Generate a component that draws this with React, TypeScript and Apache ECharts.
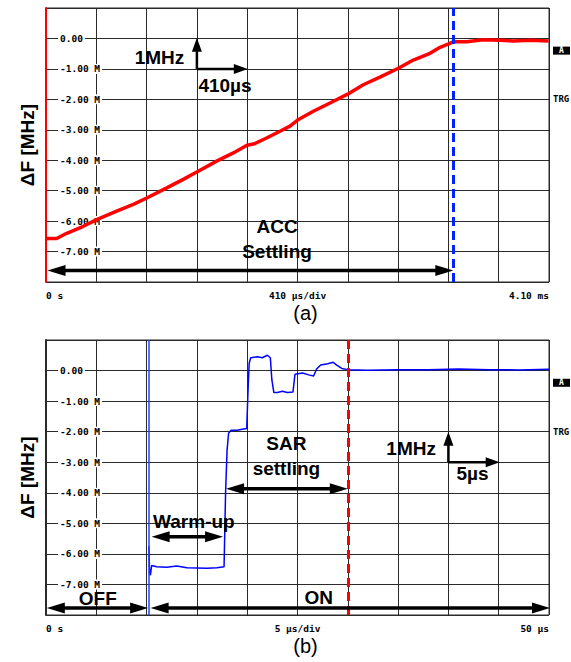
import React, { useEffect, useRef } from "react";
import * as echarts from "echarts";

// ---- data ----
const TOP_T = [6, 87, 169, 304, 413, 576, 712, 821, 984, 1119, 1233, 1391, 1527, 1638, 1700, 1798, 1907, 1989, 2051, 2179, 2315, 2459, 2586, 2722, 2872, 2994, 3130, 3212, 3282, 3320, 3429, 3564, 3700, 3809, 3950, 4097];
const TOP_F = [-6.57, -6.57, -6.4, -6.17, -5.95, -5.67, -5.45, -5.24, -4.91, -4.63, -4.38, -4.03, -3.76, -3.51, -3.46, -3.27, -3.05, -2.88, -2.68, -2.39, -2.12, -1.83, -1.52, -1.27, -0.98, -0.71, -0.49, -0.29, -0.18, -0.11, -0.11, -0.04, -0.06, -0.08, -0.06, -0.08];

const BOT_T = [10.22, 10.3, 10.38, 10.5, 11, 12, 13, 14, 15, 16, 17, 17.7, 17.85, 18.0, 18.15, 18.4, 19, 19.5, 19.95, 20.1, 20.2, 20.35, 21, 21.5, 22.0, 22.3, 22.45, 22.65, 23, 23.5, 24, 24.55, 24.75, 25.5, 26.2, 26.6, 26.9, 27.3, 28, 28.55, 28.9, 29.4, 30, 32, 35, 38, 41, 44, 47, 50];
const BOT_F = [-5.75, -6.6, -6.7, -6.38, -6.42, -6.44, -6.4, -6.45, -6.46, -6.47, -6.45, -6.42, -4.0, -2.6, -2.05, -1.95, -1.95, -1.92, -1.9, -0.5, 0.25, 0.42, 0.45, 0.42, 0.5, 0.42, -0.3, -0.72, -0.72, -0.68, -0.72, -0.7, -0.12, -0.08, -0.15, -0.18, 0.05, 0.18, 0.22, 0.27, 0.18, 0.07, 0.03, 0.01, 0.03, 0.03, 0.05, 0.03, 0.02, 0.04];

const Y_MIN = -8;
const Y_MAX = 1;
const TOP_X_MAX = 4100; // µs (410 µs/div)
const TOP_X_DIV = 410;
const BOT_X_MAX = 50; // µs (5 µs/div)
const BOT_X_DIV = 5;

const TOP_X_LABELS: Record<number, string> = { 0: "0 s", 2050: "410 µs/div", 4100: "4.10 ms" };
const BOT_X_LABELS: Record<number, string> = { 0: "0 s", 25: "5 µs/div", 50: "50 µs" };

const TOP_MARKER_T = 3320; // blue dashed line (ACC settled)
const BOT_MARKER_T = 30; // red dashed line (SAR settled)
const BOT_ON_T = 10.2; // power-on edge

// arrows (tip to tip): [x1, y1, x2, y2, headAtStart, isScaleArrow]
type Arrow = [number, number, number, number, boolean, boolean];
const TOP_ARROWS: Arrow[] = [
  [12, -7.62, 3320, -7.62, true, false],
  [1230, -1, 1230, 0.02, false, true],
  [1230, -1, 1645, -1, false, true],
];
const BOT_ARROWS: Arrow[] = [
  [0.08, -7.77, 10.15, -7.77, true, false],
  [10.4, -7.77, 50.1, -7.77, true, false],
  [10.5, -5.44, 17.6, -5.44, true, false],
  [17.9, -3.87, 30.0, -3.87, true, false],
  [40, -3, 40, -2, false, true],
  [40, -3, 45.1, -3, false, true],
];

const TOP_NOTES: [string, number, number][] = [
  ["1MHz", 925, -0.62],
  ["410µs", 1459, -1.56],
  ["ACC", 1883, -6.18],
  ["Settling", 1883, -6.99],
];
const BOT_NOTES: [string, number, number][] = [
  ["SAR", 23.9, -2.38],
  ["settling", 23.9, -3.19],
  ["1MHz", 36.3, -2.54],
  ["5µs", 42.4, -3.36],
  ["Warm-up", 14.7, -4.93],
  ["OFF", 5.15, -7.47],
  ["ON", 27.1, -7.44],
];

const MONO = "DejaVu Sans Mono";
const SANS = "Liberation Sans";

function yAxisFor(gridIndex: number, lineColor: string) {
  return {
    type: "value",
    gridIndex,
    min: Y_MIN,
    max: Y_MAX,
    interval: 1,
    axisLine: { show: true, lineStyle: { color: lineColor, width: 2 } },
    axisTick: { show: false },
    splitLine: { show: true, lineStyle: { color: "#2a2a2a", width: 1 } },
    axisLabel: {
      inside: true,
      margin: 12,
      showMinLabel: false,
      showMaxLabel: false,
      fontFamily: MONO,
      fontWeight: "bold",
      fontSize: 9.5,
      color: "#000",
      backgroundColor: "#fff",
      padding: [0, 2],
      formatter: (v: number) => (v === 0 ? "0.00" : `${v.toFixed(2)} M`),
    },
  };
}

function xAxisFor(gridIndex: number, max: number, interval: number, labels: Record<number, string>) {
  return {
    type: "value",
    gridIndex,
    min: 0,
    max,
    interval,
    axisLine: { show: false },
    axisTick: { show: false },
    splitLine: { show: true, lineStyle: { color: "#2a2a2a", width: 1 } },
    axisLabel: {
      margin: 8,
      interval: 0,
      alignMinLabel: "left",
      alignMaxLabel: "right",
      fontFamily: MONO,
      fontWeight: "bold",
      fontSize: 9.5,
      color: "#000",
      formatter: (v: number) => labels[Math.round(v * 1000) / 1000] ?? "",
    },
  };
}

export default function App() {
  const ref = useRef<HTMLDivElement>(null);

  useEffect(() => {
    if (!ref.current) return;
    const chart = echarts.init(ref.current, undefined, { renderer: "svg" });

    const option: any = {
      animation: false,
      backgroundColor: "#fff",
      grid: [
        { left: 46, top: 8, width: 503, height: 274, show: true, borderColor: "#2a2a2a", borderWidth: 1 },
        { left: 46, top: 340, width: 503, height: 275, show: true, borderColor: "#2a2a2a", borderWidth: 1 },
      ],
      xAxis: [
        xAxisFor(0, TOP_X_MAX, TOP_X_DIV, TOP_X_LABELS),
        xAxisFor(1, BOT_X_MAX, BOT_X_DIV, BOT_X_LABELS),
      ],
      yAxis: [yAxisFor(0, "#ff0000"), yAxisFor(1, "#2a2a2a")],
      series: [
        {
          type: "line",
          xAxisIndex: 0,
          yAxisIndex: 0,
          data: TOP_T.map((t, i) => [t, TOP_F[i]]),
          showSymbol: false,
          lineStyle: { color: "#ff0000", width: 3.5 },
          z: 3,
          markLine: {
            silent: true,
            animation: false,
            label: { show: false },
            symbol: ["none", "none"],
            data: [
              {
                xAxis: TOP_MARKER_T,
                lineStyle: { color: "#0022ff", width: 3, type: [9, 5] },
              },
            ],
          },
        },
        {
          type: "line",
          xAxisIndex: 1,
          yAxisIndex: 1,
          data: BOT_T.map((t, i) => [t, BOT_F[i]]),
          showSymbol: false,
          lineStyle: { color: "#0000ff", width: 1.5 },
          z: 3,
          markLine: {
            silent: true,
            animation: false,
            label: { show: false },
            symbol: ["none", "none"],
            data: [
              { xAxis: BOT_ON_T, lineStyle: { color: "#2040ff", width: 1.5, type: "solid" } },
              { xAxis: BOT_MARKER_T, lineStyle: { color: "#ff0000", width: 3, type: [9, 5] } },
            ],
          },
        },
      ],
    };

    chart.setOption(option);

    const px = (g: number, x: number, y: number) =>
      chart.convertToPixel({ gridIndex: g } as any, [x, y]) as number[];

    const graphics: any[] = [];

    const addArrows = (g: number, arrows: Arrow[]) => {
      arrows.forEach(([x1, y1, x2, y2, both, scale]) => {
        const p1 = px(g, x1, y1);
        const p2 = px(g, x2, y2);
        const dx = p2[0] - p1[0];
        const dy = p2[1] - p1[1];
        const L = Math.hypot(dx, dy);
        const ux = dx / L;
        const uy = dy / L;
        const nx = -uy;
        const ny = ux;
        const hl = scale ? 14 : 18;
        const hw = scale ? 5 : 5.5;
        const lw = scale ? 2.5 : 3.5;
        const s = both ? [p1[0] + ux * (hl - 1), p1[1] + uy * (hl - 1)] : p1;
        const e = [p2[0] - ux * (hl - 1), p2[1] - uy * (hl - 1)];
        graphics.push({
          type: "line",
          z: 20,
          shape: { x1: s[0], y1: s[1], x2: e[0], y2: e[1] },
          style: { stroke: "#000", lineWidth: lw },
        });
        const head = (tip: number[], dir: number) => {
          const bx = tip[0] - dir * ux * hl;
          const by = tip[1] - dir * uy * hl;
          graphics.push({
            type: "polygon",
            z: 20,
            shape: {
              points: [
                [tip[0], tip[1]],
                [bx + nx * hw, by + ny * hw],
                [bx - nx * hw, by - ny * hw],
              ],
            },
            style: { fill: "#000" },
          });
        };
        head(p2, 1);
        if (both) head(p1, -1);
      });
    };
    addArrows(0, TOP_ARROWS);
    addArrows(1, BOT_ARROWS);

    const addNotes = (g: number, notes: [string, number, number][]) => {
      notes.forEach(([text, x, y]) => {
        const [cx, cy] = px(g, x, y);
        graphics.push({
          type: "text",
          x: cx,
          y: cy,
          z: 21,
          style: {
            text,
            fill: "#000",
            font: `bold 19px "${SANS}"`,
            lineHeight: 15,
            textAlign: "center",
            textVerticalAlign: "middle",
          },
        });
      });
    };
    addNotes(0, TOP_NOTES);
    addNotes(1, BOT_NOTES);

    // y-axis titles, panel captions and right-side markers
    [0, 1].forEach((g) => {
      const [, midY] = px(g, 0, (Y_MIN + Y_MAX) / 2);
      const [, botY] = px(g, 0, Y_MIN);
      const [midX] = px(g, g === 0 ? TOP_X_MAX / 2 : BOT_X_MAX / 2, 0);
      const [rightX] = px(g, g === 0 ? TOP_X_MAX : BOT_X_MAX, 0);
      const [, aY] = px(g, 0, -0.4);
      const [, trgY] = px(g, 0, -2);
      graphics.push({
        type: "text",
        x: 27,
        y: midY,
        rotation: Math.PI / 2,
        style: {
          text: "ΔF [MHz]",
          fill: "#000",
          font: `bold 19px "${SANS}"`,
          textAlign: "center",
          textVerticalAlign: "middle",
        },
      });
      graphics.push({
        type: "text",
        x: midX + 8,
        y: botY + 31,
        style: {
          text: g === 0 ? "(a)" : "(b)",
          fill: "#000",
          font: `20px "${SANS}"`,
          textAlign: "center",
          textVerticalAlign: "middle",
        },
      });
      graphics.push({
        type: "rect",
        shape: { x: rightX + 4, y: aY - 4, width: 17, height: 8 },
        style: { fill: "#000" },
      });
      graphics.push({
        type: "text",
        x: rightX + 12.5,
        y: aY,
        style: {
          text: "A",
          fill: "#fff",
          font: `bold 8px "${MONO}"`,
          textAlign: "center",
          textVerticalAlign: "middle",
        },
      });
      graphics.push({
        type: "text",
        x: rightX + 4,
        y: trgY,
        style: {
          text: "TRG",
          fill: "#000",
          font: `bold 9px "${MONO}"`,
          textAlign: "left",
          textVerticalAlign: "middle",
        },
      });
    });

    chart.setOption({ graphic: graphics });

    return () => chart.dispose();
  }, []);

  return (
    <div
      ref={ref}
      style={{ position: "absolute", left: 0, top: 0, width: 571, height: 662, background: "#fff" }}
    />
  );
}
